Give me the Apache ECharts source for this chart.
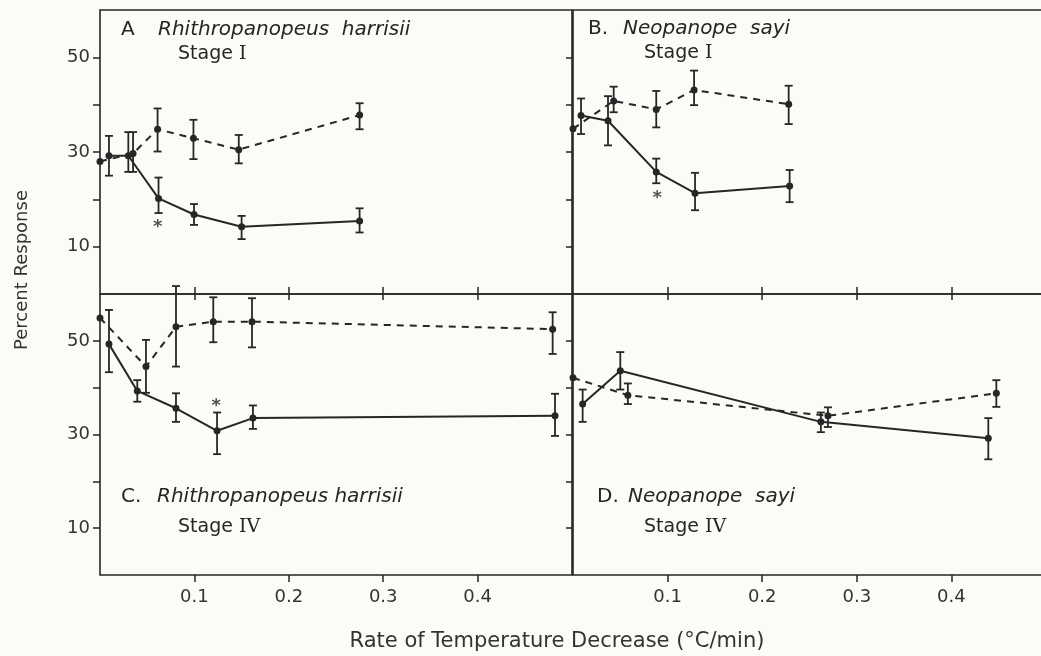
<!DOCTYPE html>
<html><head><meta charset="utf-8">
<script src="https://cdn.jsdelivr.net/npm/echarts@6/dist/echarts.min.js"></script>
<style>html,body{margin:0;padding:0;background:#fdfbf8}#c{width:1041px;height:656px}</style>
</head><body><div id="c"></div>
<script>
// Each row: [rate (°C/min), percent response, error-bar low, error-bar high]
const A_solid = [[0.0095,29.2,25.0,33.4],[0.030,29.2,25.8,34.2],[0.062,20.2,17.1,24.6],[0.0996,16.8,14.6,19.0],[0.150,14.2,11.6,16.5],[0.275,15.4,13.0,18.1]];
const A_dashed = [[0,28.0,null,null],[0.035,29.7,25.8,34.2],[0.061,34.8,30.1,39.2],[0.099,32.9,28.5,36.8],[0.147,30.5,27.6,33.6],[0.275,37.8,34.8,40.3]];
const B_solid = [[0.0085,37.7,33.8,41.3],[0.037,36.6,31.4,41.8],[0.088,25.8,23.4,28.6],[0.129,21.3,17.7,25.6],[0.229,22.8,19.4,26.2]];
const B_dashed = [[0,34.9,null,null],[0.043,40.8,38.4,43.8],[0.088,39.0,35.2,42.9],[0.128,43.1,39.9,47.2],[0.228,40.1,35.9,44.0]];
const C_solid = [[0.0095,49.3,43.3,56.6],[0.0395,39.3,37.0,41.6],[0.0805,35.6,32.7,38.8],[0.124,30.8,25.8,34.7],[0.162,33.5,31.2,36.2],[0.482,34.0,29.7,38.7]];
const C_dashed = [[0,54.9,null,null],[0.0487,44.5,38.9,50.2],[0.0805,53.0,44.5,61.7],[0.120,54.1,49.7,59.3],[0.161,54.1,48.6,59.1],[0.4795,52.5,47.2,56.1]];
const D_solid = [[0.0102,36.5,32.7,39.6],[0.050,43.6,39.6,47.6],[0.262,32.7,30.5,34.7],[0.439,29.2,24.7,33.5]];
const D_dashed = [[0,42.1,null,null],[0.058,38.4,36.5,40.9],[0.2695,34.0,31.6,35.8],[0.4475,38.8,35.9,41.6]];
// significance asterisks [rate, percent]
const A_star = [[0.061,15.0]];
const B_star = [[0.089,21.1]];
const C_star = [[0.123,36.8]];
const D_star = [];
const xTicks = [0.1,0.2,0.3,0.4];
const yTicks = [10,20,30,40,50];
const yLabels = [10,30,50];
const panelLetters = ['A','B.','C.','D.'];
const panelSpecies = ['Rhithropanopeus  harrisii','Neopanope  sayi','Rhithropanopeus harrisii','Neopanope  sayi'];
const panelStages = ['I','I','IV','IV'];
const xTitle = 'Rate of Temperature Decrease (°C/min)';
const yTitle = 'Percent Response';

const INK = '#262626';
const FONT = 'DejaVu Sans';
const panels = [
  {solid:A_solid, dashed:A_dashed, star:A_star},
  {solid:B_solid, dashed:B_dashed, star:B_star},
  {solid:C_solid, dashed:C_dashed, star:C_star},
  {solid:D_solid, dashed:D_dashed, star:D_star}
];
const grids = [
  {left:100, top:10, width:472, height:284},
  {left:573, top:10, width:473, height:284},
  {left:100, top:294, width:472, height:281},
  {left:573, top:294, width:473, height:281}
];

function errRender(params, api){
  const x = api.value(0), lo = api.value(1), hi = api.value(2);
  const a = api.coord([x, lo]), b = api.coord([x, hi]);
  const w = 4, st = {stroke: INK, lineWidth: 1.8};
  return {type:'group', children:[
    {type:'line', shape:{x1:a[0],y1:a[1],x2:b[0],y2:b[1]}, style:st},
    {type:'line', shape:{x1:a[0]-w,y1:a[1],x2:a[0]+w,y2:a[1]}, style:st},
    {type:'line', shape:{x1:b[0]-w,y1:b[1],x2:b[0]+w,y2:b[1]}, style:st}
  ]};
}

const xAxis = [], yAxis = [], series = [], graphic = [];
grids.forEach((g, i) => {
  const bottom = i >= 2, left = i % 2 === 0;
  xAxis.push({
    type:'value', gridIndex:i, min:0, max:0.5, position:'bottom',
    axisLine:{show:false}, splitLine:{show:false},
    axisTick:{show:true, customValues:xTicks, inside:!bottom, length:7, lineStyle:{color:INK, width:1.5}},
    axisLabel:{show:bottom, customValues:xTicks, formatter:v=>v.toFixed(1), fontFamily:FONT, fontSize:18, color:'#333', margin:13}
  });
  if (bottom) {
    xAxis.push({
      type:'value', gridIndex:i, min:0, max:0.5, position:'top',
      axisLine:{show:false}, splitLine:{show:false},
      axisTick:{show:true, customValues:xTicks, inside:true, length:6, lineStyle:{color:INK, width:1.5}},
      axisLabel:{show:false}
    });
  }
  yAxis.push({
    type:'value', gridIndex:i, min:0, max:60,
    axisLine:{show:false}, splitLine:{show:false},
    axisTick:{show:true, customValues:yTicks, inside:false, length:7, lineStyle:{color:INK, width:1.5}},
    axisLabel:{show:left, customValues:yLabels, fontFamily:FONT, fontSize:18, color:'#333', margin:10}
  });
});
// map grid -> xAxisIndex of its main (bottom) x axis
const xIdx = [0,1,2,4];
panels.forEach((p, i) => {
  const common = {xAxisIndex:xIdx[i], yAxisIndex:i};
  series.push(Object.assign({type:'custom', renderItem:errRender, encode:{x:0, y:[1,2]},
    data:p.solid.filter(r=>r[2]!=null).map(r=>[r[0],r[2],r[3]]), z:3, silent:true}, common));
  series.push(Object.assign({type:'custom', renderItem:errRender, encode:{x:0, y:[1,2]},
    data:p.dashed.filter(r=>r[2]!=null).map(r=>[r[0],r[2],r[3]]), z:3, silent:true}, common));
  series.push(Object.assign({type:'line', data:p.solid.map(r=>[r[0],r[1]]), symbol:'circle', symbolSize:7,
    lineStyle:{color:INK, width:2}, itemStyle:{color:INK}, z:4, animation:false}, common));
  series.push(Object.assign({type:'line', data:p.dashed.map(r=>[r[0],r[1]]), symbol:'circle', symbolSize:7,
    lineStyle:{color:INK, width:2, type:[7,6]}, itemStyle:{color:INK}, z:4, animation:false}, common));
  if (p.star.length) {
    series.push(Object.assign({type:'scatter', data:p.star, symbolSize:0,
      label:{show:true, formatter:'*', position:'inside', fontSize:18, fontWeight:'bold', fontFamily:FONT, color:INK, offset:[0,4]}, z:5}, common));
  }
});

const labelPos = [
  {lx:121, sx:158, tx:178, y:32, ty:57},
  {lx:588, sx:623, tx:644, y:31, ty:56},
  {lx:121, sx:157, tx:178, y:499, ty:530},
  {lx:597, sx:628, tx:644, y:499, ty:530}
];
labelPos.forEach((q, i) => {
  graphic.push({type:'text', left:q.lx, top:q.y-12, style:{text:panelLetters[i], font:'20px "'+FONT+'"', fill:INK}});
  graphic.push({type:'text', left:q.sx, top:q.y-12, style:{text:panelSpecies[i], font:'italic 20px "'+FONT+'"', fill:INK}});
  graphic.push({type:'text', left:q.tx, top:q.ty-12, style:{
    text:'Stage {n|'+panelStages[i]+'}', font:'19px "'+FONT+'"', fill:INK,
    rich:{n:{fontFamily:'DejaVu Serif', fontSize:19, fill:INK}}}});
});
graphic.push({type:'text', x:22, y:270, rotation:Math.PI/2, style:{text:yTitle, font:'18px "'+FONT+'"', fill:'#333', textAlign:'center', textVerticalAlign:'middle'}});
graphic.push({type:'text', x:557, y:642, style:{text:xTitle, font:'21px "'+FONT+'"', fill:'#333', textAlign:'center', textVerticalAlign:'middle'}});

const chart = echarts.init(document.getElementById('c'), null, {renderer:'canvas'});
chart.setOption({
  backgroundColor:'#fdfbf8',
  animation:false,
  grid:grids.map(g=>Object.assign({show:true, borderColor:INK, borderWidth:1.6, backgroundColor:'transparent', outerBoundsMode:'none', containLabel:false}, g)),
  xAxis, yAxis, series, graphic
});
</script></body></html>
